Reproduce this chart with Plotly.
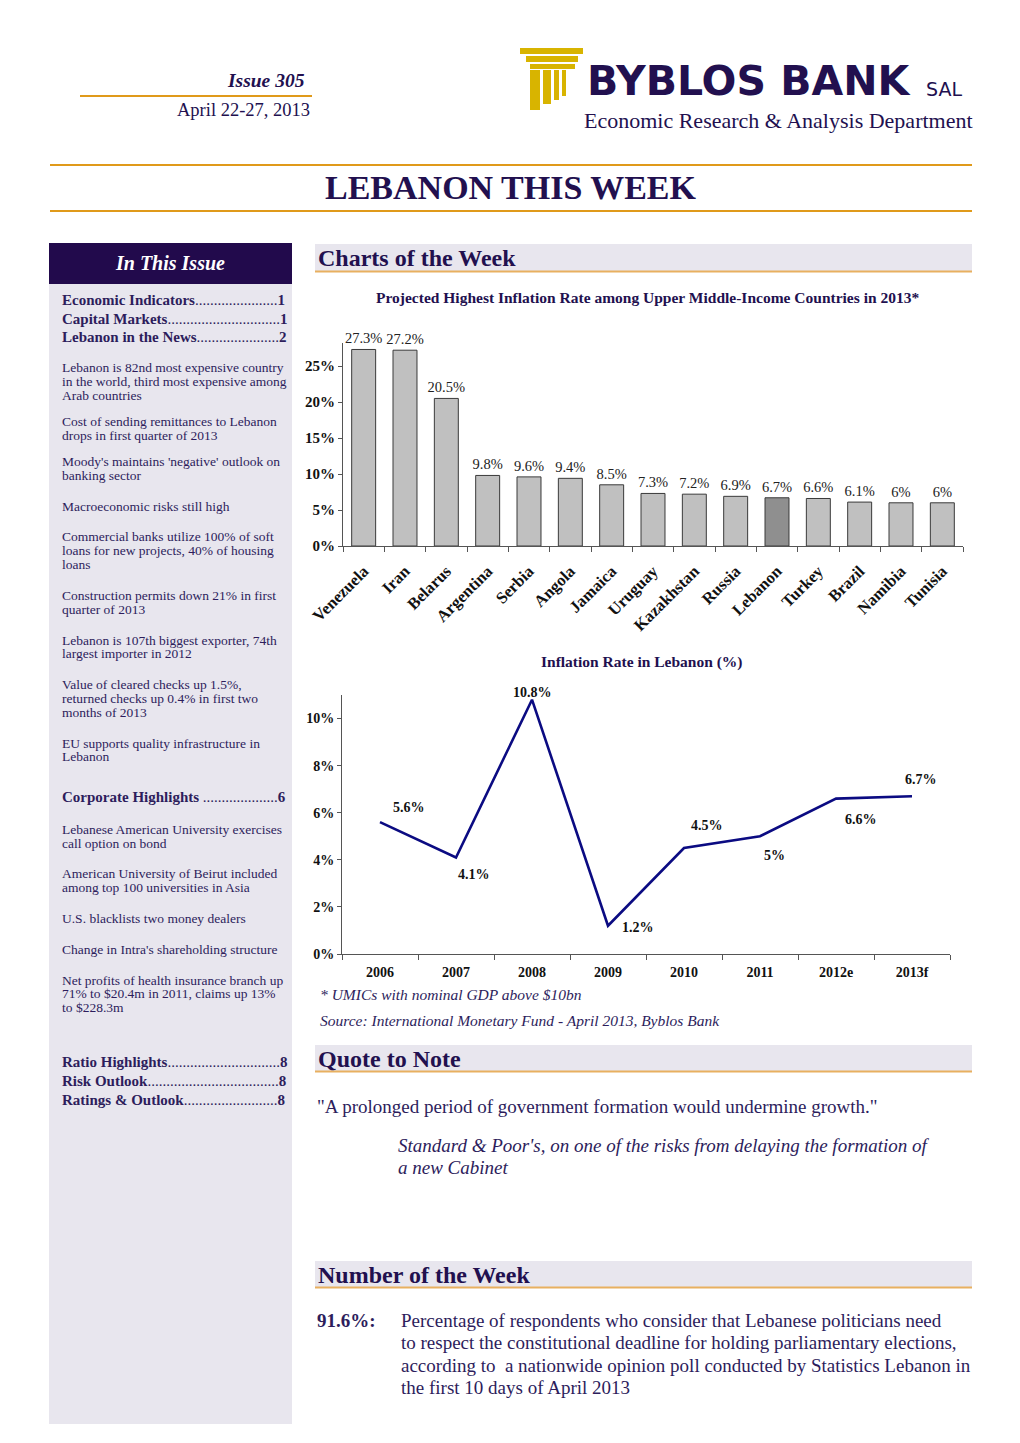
import math
import plotly.graph_objects as go

# page is rendered with an 8px body margin; compensate so the figure fills 1020x1443
OFF = 8
W, H = 1020 - OFF, 1443 - OFF

# ---------------- data ----------------
countries = ["Venezuela", "Iran", "Belarus", "Argentina", "Serbia", "Angola", "Jamaica",
             "Uruguay", "Kazakhstan", "Russia", "Lebanon", "Turkey", "Brazil", "Namibia", "Tunisia"]
inflation_2013 = [27.3, 27.2, 20.5, 9.8, 9.6, 9.4, 8.5, 7.3, 7.2, 6.9, 6.7, 6.6, 6.1, 6.0, 6.0]
bar_ticks = [0, 5, 10, 15, 20, 25]

years = ["2006", "2007", "2008", "2009", "2010", "2011", "2012e", "2013f"]
leb_inflation = [5.6, 4.1, 10.8, 1.2, 4.5, 5.0, 6.6, 6.7]
line_ticks = [0, 2, 4, 6, 8, 10]

# ---------------- helpers ----------------
def px(x):
    return (x - OFF) / W

def py(y):
    return 1 - (y - OFF) / H

SERIF = "Liberation Serif"
PURPLE = "#22104f"
TEXT = "#2d1d5c"
ORANGE = "#e09a1a"
BAND = "#e8e6ee"
GOLD = "#d8b400"

shapes = []
annos = []

def rect(x0, y0, x1, y1, color, layer="below"):
    shapes.append(dict(type="rect", xref="paper", yref="paper", x0=px(x0), x1=px(x1),
                       y0=py(y1), y1=py(y0), fillcolor=color, line=dict(width=0), layer=layer))

def hline(x0, x1, y, color, width=2):
    shapes.append(dict(type="line", xref="paper", yref="paper", x0=px(x0), x1=px(x1),
                       y0=py(y), y1=py(y), line=dict(color=color, width=width), layer="below"))

def text(x, y, s, size=13, color=TEXT, anchor="left", family=SERIF, weight=None, vanchor="middle"):
    f = dict(family=family, size=size, color=color)
    if weight:
        f["weight"] = weight
    annos.append(dict(xref="paper", yref="paper", x=px(x), y=py(y), text=s, showarrow=False,
                      xanchor=anchor, yanchor=vanchor, font=f,
                      align=anchor if anchor != "center" else "center"))

# ---------------- header ----------------
text(307, 81, "<b><i>Issue 305</i></b>", size=19.5, color=PURPLE, anchor="right")
hline(80, 312, 96, ORANGE, 2)
text(312, 110, "April 22-27, 2013", size=18.5, color=PURPLE, anchor="right")

# logo icon
rect(520, 48, 583, 54, GOLD, "above")
rect(526, 56, 578, 62, GOLD, "above")
rect(530, 64, 575, 69, GOLD, "above")
rect(530, 70, 540, 110, GOLD, "above")
rect(543, 70, 551, 104, GOLD, "above")
rect(554, 70, 559, 100, GOLD, "above")
rect(562, 70, 566, 96, GOLD, "above")
text(585, 81, "BYBLOS BANK", size=41, color=PURPLE, family="DejaVu Sans", weight=900)
text(924, 89, "SAL", size=19, color=PURPLE, family="DejaVu Sans")
text(975, 121, "Economic Research &amp; Analysis Department", size=22, color=PURPLE, anchor="right")

hline(50, 972, 165, ORANGE, 2)
text(511, 188, "<b>LEBANON THIS WEEK</b>", size=34, color=PURPLE, anchor="center")
hline(50, 972, 211, ORANGE, 2)

# ---------------- sidebar ----------------
rect(49, 243, 292, 1424, BAND)
rect(49, 243, 292, 284, "#220a4c")
text(170, 263, "<b><i>In This Issue</i></b>", size=20, color="white", anchor="center")

# Times-Bold advance widths (1/1000 em) for the leader computation
TB = {" ": 250, "&": 833, "C": 722, "E": 667, "H": 778, "I": 389, "L": 667, "M": 944, "N": 722,
      "O": 778, "R": 722, "a": 500, "b": 556, "c": 444, "d": 556, "e": 444, "f": 333, "g": 500,
      "h": 556, "i": 278, "k": 556, "l": 278, "m": 833, "n": 556, "o": 500, "p": 556, "r": 444,
      "s": 389, "t": 333, "u": 556, "w": 722, "y": 500}
TOC_SIZE = 15

def toc(y, name, num):
    name_w = sum(TB.get(c, 500) for c in name) * TOC_SIZE / 1000
    avail = 226 - name_w - 0.5 * TOC_SIZE
    n = max(3, math.floor(avail / (0.25 * TOC_SIZE)))
    label = f"<b>{name.replace('&', '&amp;')}</b>" + "." * n + f"<b>{num}</b>"
    text(60, y, label, size=TOC_SIZE, color=TEXT)

toc(300, "Economic Indicators", "1")
toc(319, "Capital Markets", "1")
toc(337, "Lebanon in the News", "2")

side_lines = [
    (368, "Lebanon is 82nd most expensive country"),
    (381, "in the world, third most expensive among"),
    (395, "Arab countries"),
    (421, "Cost of sending remittances to Lebanon"),
    (435, "drops in first quarter of 2013"),
    (461, "Moody's maintains 'negative' outlook on"),
    (475, "banking sector"),
    (506, "Macroeconomic risks still high"),
    (537, "Commercial banks utilize 100% of soft"),
    (551, "loans for new projects, 40% of housing"),
    (564, "loans"),
    (595, "Construction permits down 21% in first"),
    (609, "quarter of 2013"),
    (640, "Lebanon is 107th biggest exporter, 74th"),
    (653, "largest importer in 2012"),
    (684, "Value of cleared checks up 1.5%,"),
    (698, "returned checks up 0.4% in first two"),
    (712, "months of 2013"),
    (743, "EU supports quality infrastructure in"),
    (756, "Lebanon"),
    (829, "Lebanese American University exercises"),
    (843, "call option on bond"),
    (873, "American University of Beirut included"),
    (887, "among top 100 universities in Asia"),
    (918, "U.S. blacklists two money dealers"),
    (949, "Change in Intra's shareholding structure"),
    (980, "Net profits of health insurance branch up"),
    (993, "71% to $20.4m in 2011, claims up 13%"),
    (1007, "to $228.3m"),
]
for y, s in side_lines:
    text(60, y, s.replace("$", "&#36;"), size=13.5)

toc(797, "Corporate Highlights ", "6")
toc(1062, "Ratio Highlights", "8")
toc(1081, "Risk Outlook", "8")
toc(1100, "Ratings & Outlook", "8")

# ---------------- section headers ----------------
def section(y0, y1, title):
    rect(315, y0, 972, y1, BAND)
    hline(315, 972, y1 + 0.5, "#e8b060", 2)
    text(316, (y0 + y1) / 2 + 1, f"<b>{title}</b>", size=24, color=PURPLE)

section(244, 271, "Charts of the Week")
section(1045, 1071, "Quote to Note")
section(1261, 1287, "Number of the Week")

text(647, 297, "<b>Projected Highest Inflation Rate among Upper Middle-Income Countries in 2013*</b>",
     size=15.5, color=PURPLE, anchor="center")
text(642, 662, "<b>Inflation Rate in Lebanon (%)</b>", size=15.5, color=PURPLE, anchor="center")
text(318, 995, "<i>* UMICs with nominal GDP above &#36;10bn</i>", size=15.5, color=TEXT)
text(318, 1020, "<i>Source: International Monetary Fund - April 2013, Byblos Bank</i>", size=15.5, color=TEXT)

# quote
text(315, 1106, '"A prolonged period of government formation would undermine growth."', size=19, color=TEXT)
text(396, 1145, "<i>Standard &amp; Poor's, on one of the risks from delaying the formation of</i>", size=19, color=TEXT)
text(396, 1167, "<i>a new Cabinet</i>", size=19, color=TEXT)

# number of the week
text(315, 1320, "<b>91.6%:</b>", size=19, color=TEXT)
num_lines = [
    (1320, "Percentage of respondents who consider that Lebanese politicians need"),
    (1342, "to respect the constitutional deadline for holding parliamentary elections,"),
    (1365, "according to  a nationwide opinion poll conducted by Statistics Lebanon in"),
    (1387, "the first 10 days of April 2013"),
]
for y, s in num_lines:
    text(399, y, s, size=19, color=TEXT)

# ---------------- charts ----------------
fig = go.Figure()

bar_colors = ["#8f8f8f" if c == "Lebanon" else "#c0c0c0" for c in countries]
fig.add_trace(go.Bar(
    x=countries, y=inflation_2013, xaxis="x", yaxis="y",
    marker=dict(color=bar_colors, line=dict(color="#3a3a3a", width=1)),
    text=[f"{v:g}%" for v in inflation_2013], textposition="outside", cliponaxis=False,
    constraintext="none",
    textfont=dict(family=SERIF, size=14.5, color="#222"),
    showlegend=False, hoverinfo="x+y",
))

fig.add_trace(go.Scatter(
    x=years, y=leb_inflation, xaxis="x2", yaxis="y2", mode="lines",
    line=dict(color="#0b0b82", width=2.6), showlegend=False,
))

label_shift = [(29, 15), (18, -17), (0, 7), (30, -2), (23, 23), (14, -19), (25, -21), (9, 17)]
for i, (v, (dx, dy)) in enumerate(zip(leb_inflation, label_shift)):
    annos.append(dict(xref="x2", yref="y2", x=i, y=v, text=f"<b>{v:g}%</b>", showarrow=False,
                      xshift=dx, yshift=dy, font=dict(family=SERIF, size=14, color="#111")))

axis_common = dict(showgrid=False, zeroline=False, showline=True, linecolor="#555", linewidth=1,
                   ticks="outside", tickcolor="#555", fixedrange=True, automargin=False)

fig.update_layout(
    width=W, height=H, margin=dict(l=0, r=0, t=0, b=0, pad=0, autoexpand=False),
    paper_bgcolor="white", plot_bgcolor="rgba(0,0,0,0)",
    bargap=0.42,
    xaxis=dict(domain=[px(343), px(963)], anchor="y", type="category", tickangle=-45,
               tickson="boundaries", ticklen=5, range=[-0.5, len(countries) - 0.5],
               ticklabelstandoff=8,
               tickfont=dict(family=SERIF, size=16.5, color="#111", weight="bold"), **axis_common),
    yaxis=dict(domain=[py(546), py(343)], anchor="x", range=[0, 28.2], tickmode="array",
               tickvals=bar_ticks, ticktext=[f"{t}%" for t in bar_ticks], ticklen=4,
               tickfont=dict(family=SERIF, size=15, color="#111", weight="bold"), **axis_common),
    xaxis2=dict(domain=[px(342), px(950)], anchor="y2", type="category", tickson="boundaries",
                tickangle=0, ticklen=5, range=[-0.5, len(years) - 0.5], ticklabelstandoff=5,
                tickfont=dict(family=SERIF, size=14, color="#111", weight="bold"), **axis_common),
    yaxis2=dict(domain=[py(954), py(695)], anchor="x2", range=[0, 11], tickmode="array",
                tickvals=line_ticks, ticktext=[f"{t}%" for t in line_ticks], ticklen=4,
                tickfont=dict(family=SERIF, size=14, color="#111", weight="bold"), **axis_common),
    shapes=shapes, annotations=annos,
)

fig.write_html("out.html", config={"displayModeBar": False})
